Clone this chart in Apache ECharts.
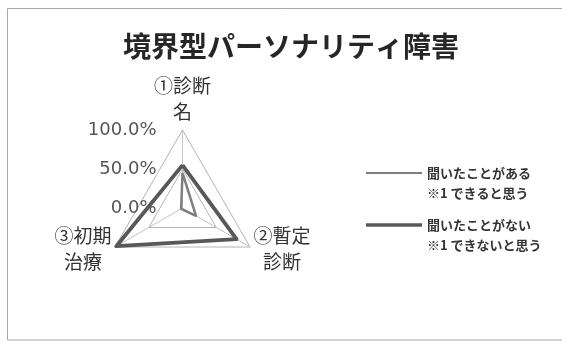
<!DOCTYPE html>
<html>
<head>
<meta charset="utf-8">
<script src="https://cdn.jsdelivr.net/npm/echarts@6/dist/echarts.min.js"></script>
<style>
  html, body { margin: 0; padding: 0; background: #fff; }
  #chart { width: 562px; height: 341px; }
</style>
</head>
<body>
<div id="chart"></div>
<script>
// Axes in clockwise order, starting from the top
const categories = ['①診断\n名', '②暫定\n診断', '③初期\n治療'];
// Share of respondents (%) per axis
const heardCan = [45, 20, 2];
const notHeardCant = [55, 80, 98];
const seriesNames = ['聞いたことがある\n※1 できると思う', '聞いたことがない\n※1 できないと思う'];
const axisTicks = [0, 50, 100];

// ECharts lays out radar indicators counter-clockwise; reorder to get clockwise
const order = [0, 2, 1];
const cw = arr => order.map(i => arr[i]);

const nameFont = 'Noto Sans CJK JP';

const indicators = cw(categories).map((c, k) => {
  const ind = { name: c, min: axisTicks[0], max: axisTicks[axisTicks.length - 1] };
  if (k === 0) {
    ind.axisLabel = {
      show: true,
      showMinLabel: true,
      showMaxLabel: true,
      margin: 26,
      color: '#555',
      fontFamily: 'DejaVu Sans',
      fontSize: 18,
      formatter: v => v.toFixed(1) + '%'
    };
  }
  return ind;
});

const chart = echarts.init(document.getElementById('chart'), null, { renderer: 'canvas' });

// Leading blank line puts the first text line level with the legend line
const legendText = {
  color: '#333',
  fontFamily: nameFont,
  fontSize: 13,
  fontWeight: 'bold',
  lineHeight: 20
};
const legendFormatter = name => '\n' + name;

const palette = ['#7e7e7e', '#585858'];

// Axis names: lines centred on each other; the top name sits closer to its vertex
const nameFormatter = n => {
  const parts = n.split('\n');
  if (n === categories[0]) return '{t1|' + parts[0] + '}\n{t2|' + parts[1] + '}';
  return parts.map(s => '{c|' + s + '}').join('\n');
};
const nameRich = {
  c: { align: 'center', fontFamily: nameFont, fontSize: 19, lineHeight: 26, color: '#333' },
  t1: { align: 'center', fontFamily: nameFont, fontSize: 19, lineHeight: 40, color: '#333' },
  t2: { align: 'center', fontFamily: nameFont, fontSize: 19, lineHeight: 12, color: '#333' }
};

chart.setOption({
  backgroundColor: '#fff',
  animation: false,
  graphic: [{
    type: 'rect',
    shape: { x: 7.5, y: 8.5, width: 600, height: 331.5 },
    style: { fill: 'none', stroke: '#a8a8a8', lineWidth: 1 },
    silent: true
  }],
  title: {
    text: '境界型パーソナリティ障害',
    left: 286,
    textAlign: 'center',
    top: 27,
    textStyle: { fontFamily: nameFont, fontSize: 28, fontWeight: 'bold', color: '#262626' }
  },
  legend: [
    {
      data: [seriesNames[0]],
      orient: 'vertical',
      left: 366, top: 143, padding: 0,
      itemWidth: 56, itemHeight: 2,
      icon: 'rect',
      formatter: legendFormatter,
      textStyle: legendText
    },
    {
      data: [seriesNames[1]],
      orient: 'vertical',
      left: 366, top: 195, padding: 0,
      itemWidth: 56, itemHeight: 3.5,
      icon: 'rect',
      formatter: legendFormatter,
      textStyle: legendText
    }
  ],
  radar: {
    center: [182.5, 208],
    radius: 78,
    startAngle: 90,
    shape: 'polygon',
    splitNumber: axisTicks.length - 1,
    indicator: indicators,
    nameGap: 4,
    axisName: {
      color: '#333',
      fontFamily: nameFont,
      fontSize: 19,
      lineHeight: 26,
      formatter: nameFormatter,
      rich: nameRich
    },
    axisLine: { lineStyle: { color: '#c4c4c4', width: 1 } },
    splitLine: { lineStyle: { color: '#b4b4b4', width: 1 } },
    splitArea: { show: false },
    axisTick: { show: false }
  },
  series: [{
    type: 'radar',
    symbol: 'none',
    data: [
      {
        name: seriesNames[0],
        value: cw(heardCan),
        lineStyle: { color: palette[0], width: 2.5 },
        itemStyle: { color: palette[0] }
      },
      {
        name: seriesNames[1],
        value: cw(notHeardCant),
        lineStyle: { color: palette[1], width: 3.8 },
        itemStyle: { color: palette[1] }
      }
    ]
  }]
});
</script>
</body>
</html>
